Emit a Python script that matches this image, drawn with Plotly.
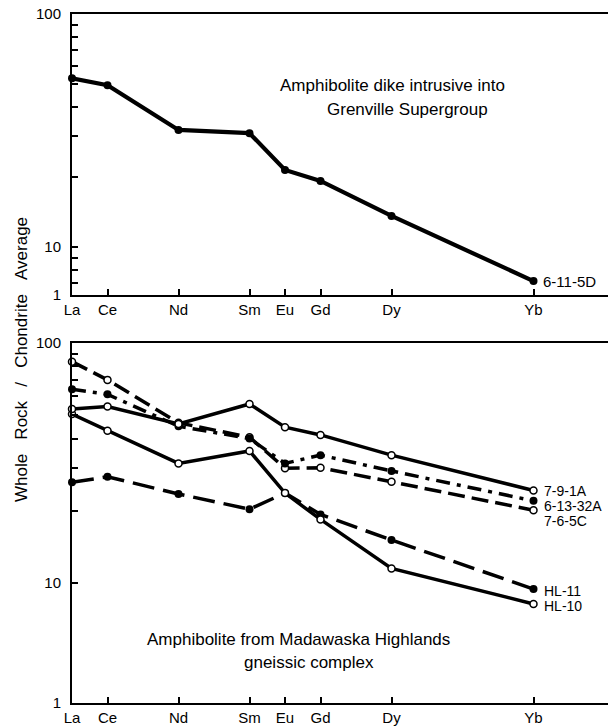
import plotly.graph_objects as go

# ---------------- data ----------------
elements = ["La", "Ce", "Nd", "Sm", "Eu", "Gd", "Dy", "Yb"]
atomic_numbers = [57, 58, 60, 62, 63, 64, 66, 70]

# top panel: amphibolite dike
dike_6_11_5D = [53.0, 49.5, 31.8, 30.8, 21.4, 19.2, 13.6, 7.14]

# lower panel: Madawaska Highlands amphibolites
s_7_9_1A = [53.1, 54.4, 46.0, 55.7, 44.6, 41.4, 34.1, 24.3]
s_6_13_32A = [64.1, 61.1, 45.0, 40.0, 31.5, 34.1, 29.3, 22.0]
s_7_6_5C = [83.6, 70.2, 46.5, 40.5, 30.1, 30.2, 26.4, 20.1]
s_HL_11 = [26.3, 27.7, 23.5, 20.3, 23.7, 19.3, 15.1, 9.44]
s_HL_10 = [50.6, 43.1, 31.5, 35.5, 23.7, 18.4, 11.5, 8.18]

minor_vals = [20, 30, 40, 50, 60, 70, 80, 90]

# ---------------- layout helpers ----------------
W, H = 608, 726
FONT = "Liberation Sans, Arial, Helvetica, sans-serif"


def px(x):
    return x / W


def py(y):
    return 1 - y / H


top_bottom_log = 1 - 48 / 233      # truncated top-panel axis
low_bottom_log = 0.5               # truncated lower-panel axis

fig = go.Figure()

# top panel
fig.add_trace(go.Scatter(
    x=atomic_numbers, y=dike_6_11_5D, xaxis="x", yaxis="y",
    mode="lines+markers", line=dict(color="black", width=4.2),
    marker=dict(color="black", size=8), cliponaxis=False, showlegend=False))

OPEN = dict(color="white", size=7, line=dict(color="black", width=1.5))
FILLED = dict(color="black", size=8)

series = [
    (s_HL_11, "22px,9px", FILLED),
    (s_HL_10, "solid", OPEN),
    (s_7_6_5C, "17px,7px", OPEN),
    (s_6_13_32A, "14px,7px,4px,7px", FILLED),
    (s_7_9_1A, "solid", OPEN),
]
for vals, dash, mk in series:
    fig.add_trace(go.Scatter(
        x=atomic_numbers, y=vals, xaxis="x2", yaxis="y2",
        mode="lines+markers", line=dict(color="black", width=3.5, dash=dash),
        marker=mk, cliponaxis=False, showlegend=False))

x_range = [57, 57 + (W - 72) / 35.5]
xcommon = dict(
    range=x_range, tickvals=atomic_numbers, ticktext=elements,
    ticks="inside", ticklen=6, tickwidth=1.5, tickcolor="black",
    showline=True, linewidth=2, linecolor="black", mirror=True,
    showgrid=False, zeroline=False, automargin=False,
    tickfont=dict(size=15, color="black", family=FONT),
    domain=[px(72), 1],
)
ycommon = dict(
    type="log", ticks="inside", ticklen=6, tickwidth=1.5, tickcolor="black",
    showline=True, linewidth=2, linecolor="black", mirror=False,
    showgrid=False, zeroline=False, automargin=False,
    tickfont=dict(size=15, color="black", family=FONT),
    ticklabelstandoff=6,
)

top_ticks = [10 ** top_bottom_log, 7, 8, 9, 10] + minor_vals + [100]
top_text = ["1", "", "", "", "10"] + [""] * len(minor_vals) + ["100"]
low_ticks = [10 ** low_bottom_log, 10] + minor_vals + [100]
low_text = ["1", "10"] + [""] * len(minor_vals) + ["100"]

fig.update_layout(
    width=W, height=H,
    margin=dict(l=0, r=0, t=0, b=0),
    paper_bgcolor="white", plot_bgcolor="white",
    font=dict(family=FONT, color="black"),
    xaxis=dict(**xcommon, anchor="y"),
    xaxis2=dict(**xcommon, anchor="y2"),
    yaxis=dict(**ycommon, anchor="x", domain=[py(295), py(14)],
               range=[top_bottom_log, 2], tickvals=top_ticks, ticktext=top_text),
    yaxis2=dict(**ycommon, anchor="x2", domain=[py(703), py(343)],
                range=[low_bottom_log, 2], tickvals=low_ticks, ticktext=low_text),
)


def note(text, x, y, size=15, xanchor="left", angle=0):
    fig.add_annotation(
        text=text, xref="paper", yref="paper", x=px(x), y=py(y),
        xanchor=xanchor, yanchor="middle", showarrow=False, textangle=angle,
        font=dict(size=size, color="black", family=FONT))


note("Amphibolite dike intrusive into", 392, 86, 17, "center")
note("Grenville Supergroup", 407, 109, 17, "center")
note("Amphibolite from Madawaska Highlands", 298, 639, 17, "center")
note("gneissic complex", 309, 662, 17, "center")

note("6-11-5D", 541, 281)
note("7-9-1A", 542, 491, 14)
note("6-13-32A", 542, 506, 14)
note("7-6-5C", 542, 521, 14)
note("HL-11", 542, 591, 14)
note("HL-10", 542, 606, 14)

gap = "\u00a0" * 3
title = gap.join(["Whole", "Rock", "/", "Chondrite", "Average"])
note(title, 21, 360, 17, "center", -90)

fig.write_html("out.html")
